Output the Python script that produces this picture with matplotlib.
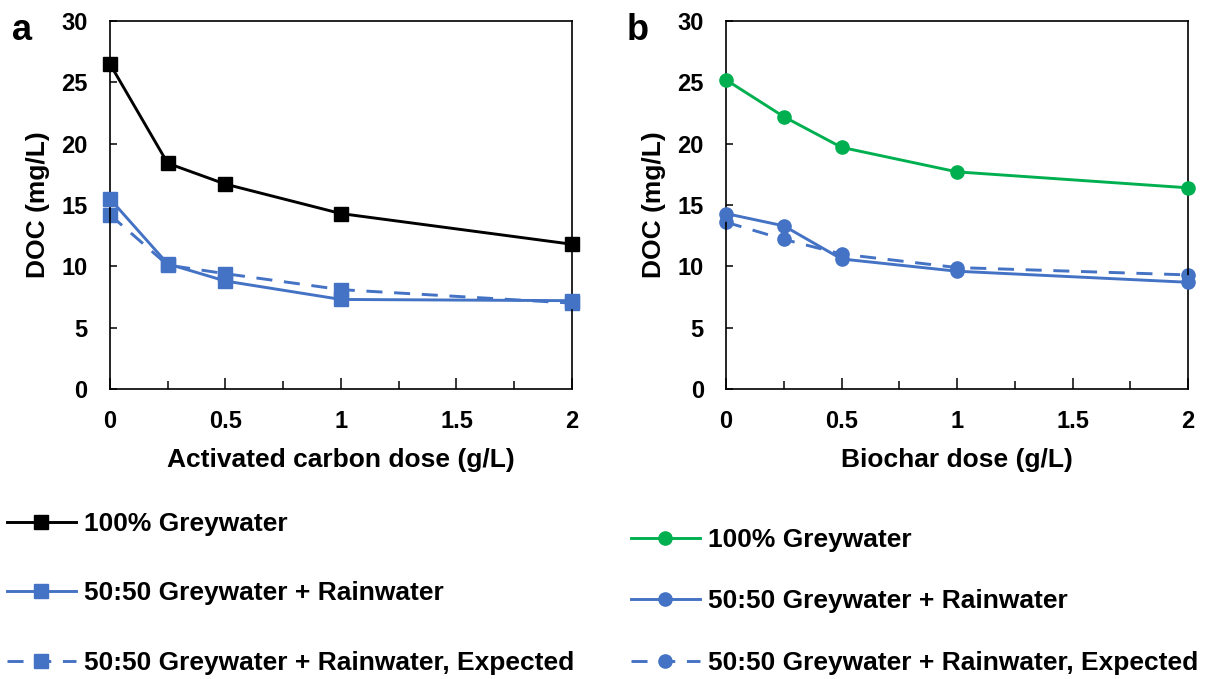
import matplotlib
matplotlib.use('Agg')
import matplotlib.pyplot as plt
from matplotlib.ticker import MultipleLocator
from matplotlib.lines import Line2D

plt.rcParams['font.family'] = ['Liberation Sans', 'DejaVu Sans']

dose = [0, 0.25, 0.5, 1, 2]

# activated carbon
ac_grey = [26.5, 18.4, 16.7, 14.3, 11.8]
ac_mix = [15.5, 10.2, 8.8, 7.3, 7.2]
ac_mix_expected = [14.2, 10.1, 9.4, 8.1, 7.0]

# biochar
bc_grey = [25.2, 22.2, 19.7, 17.7, 16.4]
bc_mix = [14.3, 13.3, 10.6, 9.6, 8.7]
bc_mix_expected = [13.6, 12.2, 11.0, 9.9, 9.3]

labels = ['100% Greywater', '50:50 Greywater + Rainwater',
          '50:50 Greywater + Rainwater, Expected']
xlabels = ['Activated carbon dose (g/L)', 'Biochar dose (g/L)']
xticklabels = ['0', '0.5', '1', '1.5', '2']

BLUE = '#4472C4'
GREEN = '#00B050'
DASH = (0, (5.5, 4))
LW = 2.1
MS = 9.5

fig = plt.figure(figsize=(12.07, 6.79), dpi=100)
ax_a = fig.add_axes([0.0911, 0.4271, 0.3828, 0.542])
ax_b = fig.add_axes([0.6015, 0.4271, 0.3828, 0.542])


def panel(ax, grey, mix, expected, marker, gcolor, xlabel):
    ax.plot(dose, grey, color=gcolor, lw=LW, marker=marker, ms=MS, clip_on=False, zorder=3)
    ax.plot(dose, mix, color=BLUE, lw=LW, marker=marker, ms=MS, clip_on=False, zorder=3)
    ax.plot(dose, expected, color=BLUE, lw=LW, ls=DASH, marker=marker, ms=MS,
            clip_on=False, zorder=2)
    ax.set_xlim(0, 2)
    ax.set_ylim(0, 30)
    ax.set_xticks([0, 0.5, 1, 1.5, 2])
    ax.set_xticklabels(xticklabels)
    ax.xaxis.set_minor_locator(MultipleLocator(0.25))
    ax.yaxis.set_major_locator(MultipleLocator(5))
    ax.tick_params(axis='x', which='major', direction='in', length=8, width=1.1,
                   labelsize=17, pad=15)
    ax.tick_params(axis='x', which='minor', direction='in', length=6, width=1.1)
    ax.tick_params(axis='y', direction='in', length=5, width=1.1, labelsize=17, pad=16)
    for lab in ax.get_xticklabels() + ax.get_yticklabels():
        lab.set_fontweight('bold')
    for s in ax.spines.values():
        s.set_linewidth(1.2)
    ax.set_xlabel(xlabel, fontsize=19, fontweight='bold', labelpad=11)
    ax.set_ylabel('DOC (mg/L)', fontsize=19, fontweight='bold', labelpad=8)


panel(ax_a, ac_grey, ac_mix, ac_mix_expected, 's', 'black', xlabels[0])
panel(ax_b, bc_grey, bc_mix, bc_mix_expected, 'o', GREEN, xlabels[1])

fig.text(12 / 1207, 1 - 40 / 679, 'a', fontsize=26, fontweight='bold', va='baseline')
fig.text(627 / 1207, 1 - 40 / 679, 'b', fontsize=26, fontweight='bold', va='baseline')


def handles(marker, gcolor):
    return [Line2D([], [], color=gcolor, lw=LW, marker=marker, ms=MS),
            Line2D([], [], color=BLUE, lw=LW, marker=marker, ms=MS),
            Line2D([], [], color=BLUE, lw=LW, ls=DASH, marker=marker, ms=MS)]


leg_kw = dict(loc='upper left', frameon=False, handlelength=2.6, handletextpad=0.3,
              borderaxespad=0, borderpad=0,
              prop={'size': 19, 'weight': 'bold', 'family': ['Liberation Sans']})
fig.legend(handles('s', 'black'), labels, bbox_to_anchor=(7 / 1207, 0.246),
           labelspacing=1.72, **leg_kw)
fig.legend(handles('o', GREEN), labels, bbox_to_anchor=(631 / 1207, 0.2224),
           labelspacing=1.42, **leg_kw)

fig.savefig('out.png', dpi=100)
